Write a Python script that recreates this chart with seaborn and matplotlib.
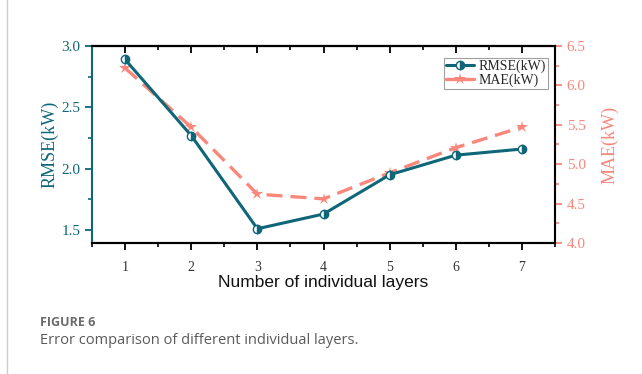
import pandas as pd
import seaborn as sns
import matplotlib.pyplot as plt
from matplotlib.lines import Line2D
from matplotlib.ticker import MultipleLocator

layers = [1, 2, 3, 4, 5, 6, 7]
rmse = [2.89, 2.27, 1.51, 1.63, 1.95, 2.11, 2.16]
mae = [6.22, 5.47, 4.62, 4.56, 4.89, 5.21, 5.47]

teal = "#0e6678"
salmon = "#f9877b"

sns.set_theme(style="white")
plt.rcParams['font.serif'] = ['Liberation Serif', 'DejaVu Serif']
plt.rcParams['font.family'] = ['serif']

df = pd.DataFrame({"layers": layers, "RMSE": rmse, "MAE": mae})

fig = plt.figure(figsize=(6.42, 3.74), dpi=100)
ax = fig.add_axes([0.1433, 0.3503, 0.7212, 0.5267])
ax2 = ax.twinx()

sns.lineplot(data=df, x="layers", y="RMSE", ax=ax, color=teal, lw=2.2,
             marker="o", markersize=6, fillstyle="right", markerfacecoloralt="white",
             markeredgecolor=teal, markeredgewidth=1.0, zorder=3)
sns.lineplot(data=df, x="layers", y="MAE", ax=ax2, color=salmon, lw=2.4,
             marker="*", markersize=9, markeredgewidth=0, zorder=2)
ax2.lines[0].set_dashes([4.8, 2.4])

ax.set_xlim(0.5, 7.5)
ax.set_ylim(1.394, 3.0)
ax2.set_ylim(4.0, 6.5)
ax.set_xticks(layers)
ax.xaxis.set_minor_locator(MultipleLocator(0.5))
ax.yaxis.set_major_locator(MultipleLocator(0.5))
ax.yaxis.set_minor_locator(MultipleLocator(0.25))
ax2.yaxis.set_major_locator(MultipleLocator(0.5))
ax2.yaxis.set_minor_locator(MultipleLocator(0.25))

ax.set_xlabel("Number of individual layers", family="Liberation Sans", fontsize=12.5,
              color="#111111", labelpad=1)
ax.set_ylabel("RMSE(kW)", color=teal, fontsize=13, labelpad=2)
ax2.set_ylabel("MAE(kW)", color=salmon, fontsize=13, labelpad=11)

for a in (ax, ax2):
    for s in a.spines.values():
        s.set_linewidth(1.5)
        s.set_color("black")
ax.spines["left"].set_color(teal)
ax2.spines["left"].set_visible(False)
ax2.spines["right"].set_color(salmon)

ax.tick_params(axis="x", which="both", bottom=True, top=False, direction="out",
               labelsize=10, colors="black", labelcolor="#333333", pad=8)
ax.tick_params(axis="x", which="major", length=5, width=1.3)
ax.tick_params(axis="x", which="minor", length=3, width=1.2)
ax.tick_params(axis="y", which="both", left=True, colors=teal, labelsize=11)
ax.tick_params(axis="y", which="major", length=5, width=1.3)
ax.tick_params(axis="y", which="minor", length=3, width=1.2)
ax2.tick_params(axis="y", which="both", right=True, colors=salmon, labelsize=11)
ax2.tick_params(axis="y", which="major", length=5, width=1.3)
ax2.tick_params(axis="y", which="minor", length=3, width=1.2)
ax.yaxis.set_major_formatter(plt.FormatStrFormatter("%.1f"))
ax2.yaxis.set_major_formatter(plt.FormatStrFormatter("%.1f"))

top = ax.secondary_xaxis("top")
top.set_xticks(layers)
top.xaxis.set_minor_locator(MultipleLocator(0.5))
top.tick_params(axis="x", which="both", direction="in", labeltop=False, colors="black")
top.tick_params(axis="x", which="major", length=5, width=1.3)
top.tick_params(axis="x", which="minor", length=3, width=1.2)
top.spines["top"].set_linewidth(1.5)

handles = [
    Line2D([], [], color=teal, lw=2.2, marker="o", markersize=6, fillstyle="right",
           markerfacecoloralt="white", markeredgecolor=teal),
    Line2D([], [], color=salmon, lw=2.4, marker="*", markersize=9, markeredgewidth=0),
]
leg = ax.legend(handles, ["RMSE(kW)", "MAE(kW)"], loc="upper right",
                bbox_to_anchor=(0.99, 0.955), fontsize=10, frameon=True,
                fancybox=False, edgecolor="#888888", handlelength=2.0,
                borderpad=0.15, labelspacing=0.0, handletextpad=0.3,
                borderaxespad=0.2)
leg.get_frame().set_linewidth(0.8)
leg.set_zorder(5)
ax.set_zorder(ax2.get_zorder() + 1)
ax.patch.set_visible(False)

fig.add_artist(Line2D([7 / 642, 7 / 642], [0, 1], color="#cccccc", lw=1.0))
fig.text(40 / 642, 1 - 322 / 374, "FIGURE 6", family="Open Sans", fontweight="bold",
         fontsize=9, color="#6b6b6b", va="center")
fig.text(40 / 642, 1 - 341 / 374, "Error comparison of different individual layers.",
         family="Open Sans", fontsize=10.5, color="#5a5a5a", va="center")

fig.savefig("out.png", dpi=100)
